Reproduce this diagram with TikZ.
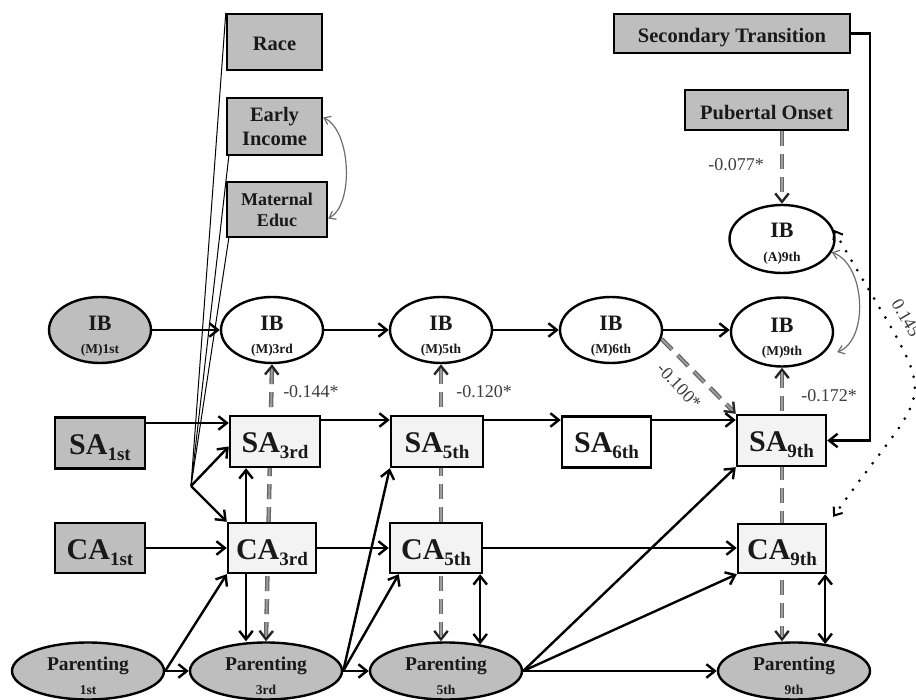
\documentclass[tikz,border=0pt]{standalone}
\usepackage{fontspec}
\setmainfont{Liberation Serif}
\usetikzlibrary{arrows.meta,shapes.geometric,backgrounds}
\definecolor{boxgray}{RGB}{190,190,190}
\definecolor{boxlight}{RGB}{243,243,243}
\definecolor{labgray}{RGB}{60,60,60}
\definecolor{curvegray}{RGB}{110,110,110}
\newcommand\lowsub[1]{\raisebox{-6pt}{\fontsize{19}{19}\selectfont #1}}
\begin{document}
\begin{tikzpicture}[x=1pt,y=1pt,
  every node/.style={text=black!90},
  arr/.style={line width=2.4pt,-{Straight Barb[length=8.5pt,width=13.5pt]}},
  dbl/.style={line width=2.4pt,{Straight Barb[length=8.5pt,width=13.5pt]}-{Straight Barb[length=8.5pt,width=13.5pt]}},
  thinln/.style={line width=1pt},
  hdr/.style={draw, line width=2.4pt, fill=boxgray, inner sep=0pt, align=center,
    font=\bfseries\fontsize{20.5}{24}\selectfont},
  meas/.style={draw, line width=2.4pt, fill=boxlight, inner sep=0pt,
    minimum width=90pt, minimum height=51pt, text height=22pt, text depth=0pt,
    font=\bfseries\fontsize{30}{30}\selectfont},
  ibell/.style={ellipse, draw, line width=2.4pt, fill=white, inner sep=0pt,
    minimum width=102pt, minimum height=66pt},
  pell/.style={ellipse, draw, line width=2.4pt, fill=boxgray, inner sep=0pt,
    minimum width=152pt, minimum height=57pt},
  ibtxt/.style={anchor=base, inner sep=0pt, font=\bfseries\fontsize{22}{22}\selectfont},
  ptxt/.style={anchor=base, inner sep=0pt, font=\bfseries\fontsize{19.5}{20}\selectfont},
  wave/.style={anchor=base, inner sep=0pt, font=\bfseries\fontsize{13.5}{14}\selectfont},
  lab/.style={text=labgray, inner sep=0pt, font=\fontsize{18}{18}\selectfont},
  % dashed double line of a moderated path (tips are added by tiponly)
  dsh/.style={draw=black!60, double=black!38, double distance=1.8pt, line width=1.3pt,
    dash pattern=on 15pt off 8pt},
  tiponly/.style={line width=2.4pt, draw=black!85, dash pattern=on 0pt off 4000pt, line cap=butt},
  dtip/.style={-{Straight Barb[length=8.5pt,width=13.5pt]}},
  dtips/.style={{Straight Barb[length=8.5pt,width=13.5pt]}-{Straight Barb[length=8.5pt,width=13.5pt]}},
  cur/.style={line width=1.2pt, draw=curvegray,
    {Straight Barb[length=6pt,width=9pt]}-{Straight Barb[length=6pt,width=9pt]}},
  dot/.style={line width=3pt, dash pattern=on 0pt off 11pt, line cap=round,
    {Straight Barb[length=7pt,width=11pt,line width=2pt]}-{Straight Barb[length=7pt,width=11pt,line width=2pt]}}
]
\useasboundingbox (0,0) rectangle (916,-700);
\clip (0,0) rectangle (916,-700);

% covariates
\node[hdr, minimum width=95pt, minimum height=56pt, text height=18pt, text depth=0pt] (race) at (274.5,-42) {Race};
\node[hdr, minimum width=95pt, minimum height=57pt] (inc) at (274.5,-126.5) {Early\\Income};
\node[hdr, minimum width=100pt, minimum height=55pt, font=\bfseries\fontsize{18}{21}\selectfont] (edu) at (277,-209.5) {Maternal\\Educ};
\node[hdr, minimum width=236pt, minimum height=39pt, text height=18pt, text depth=0pt] (st) at (732,-33.5) {Secondary Transition};
\node[hdr, minimum width=163pt, minimum height=40pt, text height=19pt, text depth=0pt] (po) at (766.5,-110) {Pubertal Onset};

% internalizing behaviour
\node[ibell, fill=boxgray] (ib1) at (100,-330) {};
\node[ibell] (ib3) at (272,-330) {};
\node[ibell] (ib5) at (441,-330) {};
\node[ibell] (ib6) at (611,-330) {};
\node[ibell, minimum height=69pt] (ib9) at (782,-332) {};
\node[ibell, minimum width=105pt, minimum height=68pt] (iba) at (782,-239) {};
\node[ibtxt] (ib1t) at ([yshift=-1pt]ib1.center) {IB};
\node[wave]  (ib1s) at ([yshift=-24pt]ib1.center) {(M)1st};
\node[ibtxt] (ib3t) at ([yshift=-1pt]ib3.center) {IB};
\node[wave]  (ib3s) at ([yshift=-24pt]ib3.center) {(M)3rd};
\node[ibtxt] (ib5t) at ([yshift=-1pt]ib5.center) {IB};
\node[wave]  (ib5s) at ([yshift=-24pt]ib5.center) {(M)5th};
\node[ibtxt] (ib6t) at ([yshift=-1pt]ib6.center) {IB};
\node[wave]  (ib6s) at ([yshift=-24pt]ib6.center) {(M)6th};
\node[ibtxt] (ib9t) at ([yshift=-1pt]ib9.center) {IB};
\node[wave]  (ib9s) at ([yshift=-24pt]ib9.center) {(M)9th};
\node[ibtxt] (ibat) at ([yshift=1pt]iba.center) {IB};
\node[wave]  (ibas) at ([yshift=-23pt]iba.center) {(A)9th};

% social and cognitive ability
\node[meas, fill=boxgray] (sa1) at (100,-443) {SA\lowsub{1st}};
\node[meas] (sa3) at (275,-441.5) {SA\lowsub{3rd}};
\node[meas, minimum width=92pt] (sa5) at (437,-441.5) {SA\lowsub{5th}};
\node[meas, fill=white, minimum width=89pt] (sa6) at (606.5,-442) {SA\lowsub{6th}};
\node[meas, minimum width=89pt] (sa9) at (781.5,-440.5) {SA\lowsub{9th}};
\node[meas, fill=boxgray, minimum height=50pt] (ca1) at (100,-548) {CA\lowsub{1st}};
\node[meas, minimum width=88pt, minimum height=50pt] (ca3) at (272,-548) {CA\lowsub{3rd}};
\node[meas, minimum width=92pt, minimum height=50pt] (ca5) at (436,-548) {CA\lowsub{5th}};
\node[meas, minimum width=88pt, minimum height=49pt] (ca9) at (782,-548.5) {CA\lowsub{9th}};

% parenting
\node[pell] (p1) at (88,-671) {};
\node[pell] (p3) at (266,-671) {};
\node[pell] (p5) at (446,-671) {};
\node[pell] (p9) at (794,-671) {};
\node[ptxt] (p1t) at ([yshift=1pt]p1.center) {Parenting};
\node[wave] (p1s) at ([yshift=-23pt]p1.center) {1st};
\node[ptxt] (p3t) at ([yshift=1pt]p3.center) {Parenting};
\node[wave] (p3s) at ([yshift=-23pt]p3.center) {3rd};
\node[ptxt] (p5t) at ([yshift=1pt]p5.center) {Parenting};
\node[wave] (p5s) at ([yshift=-23pt]p5.center) {5th};
\node[ptxt] (p9t) at ([yshift=1pt]p9.center) {Parenting};
\node[wave] (p9s) at ([yshift=-23pt]p9.center) {9th};

% moderated paths: dashed lines behind the boxes
\begin{scope}[on background layer]
  \draw[dsh, shorten <=5pt, shorten >=5pt] (ib3.south) -- (p3.north);
  \draw[dsh, shorten <=5pt, shorten >=5pt] (ib5.south) -- (ib5.south |- p5.north);
  \draw[dsh, shorten <=5pt, shorten >=5pt] (ib9.south) -- (ib9.south |- p9.north);
  \draw[dsh, shorten >=5pt] (iba.north |- po.south) -- (iba.north);
  \draw[dsh, shorten >=5pt] (ib6.-10) -- (sa9.north west);
\end{scope}
% their arrow tips
\draw[tiponly, dtips] (ib3.south) -- (p3.north);
\draw[tiponly, dtips] (ib5.south) -- (ib5.south |- p5.north);
\draw[tiponly, dtips] (ib9.south) -- (ib9.south |- p9.north);
\draw[tiponly, dtip] (iba.north |- po.south) -- (iba.north);
\draw[tiponly, dtip] (ib6.-10) -- (sa9.north west);

\node[lab] (l144) at (311,-392) {-0.144*};
\node[lab] (l120) at (484,-392) {-0.120*};
\node[lab] (l172) at (829,-396) {-0.172*};
\node[lab] (l077) at (736,-165) {-0.077*};
\node[lab, rotate=-47] (l100) at (679,-386) {-0.100*};
\node[lab, rotate=-60] (l145) at (906,-318) {0.145};

% covariate paths
\coordinate (hub) at (191,-486);
\draw[thinln] (race.north west) -- (hub);
\draw[thinln] ([xshift=3pt]inc.south west) -- (hub);
\draw[thinln] ([xshift=3pt]edu.south west) -- (hub);
\draw[arr] (hub) -- ([yshift=-5pt]sa3.west);
\draw[arr] (hub) -- (ca3.north west);

% IB stability
\draw[arr] (ib1.east) -- (ib3.west);
\draw[arr] (ib3.east) -- (ib5.west);
\draw[arr] (ib5.east) -- (ib6.west);
\draw[arr] (ib6.east) -- (ib6.east -| ib9.west);

% SA stability
\coordinate (s1) at ([yshift=20pt]sa1.east);
\draw[arr] (s1) -- (s1 -| sa3.west);
\coordinate (s3) at ([yshift=21.5pt]sa3.east);
\draw[arr] (s3) -- (s3 -| sa5.west);
\coordinate (s5) at ([yshift=21.5pt]sa5.east);
\draw[arr] (s5) -- (s5 -| sa6.west);
\coordinate (s6) at ([yshift=22pt]sa6.east);
\draw[arr] (s6) -- (s6 -| sa9.west);

% CA stability
\draw[arr] (ca1.east) -- (ca3.west);
\draw[arr] (ca3.east) -- (ca5.west);
\draw[arr] (ca5.east) -- (ca5.east -| ca9.west);

% CA cross paths
\coordinate (c3u) at ([xshift=-26pt]ca3.north);
\coordinate (c3d) at ([xshift=-26pt]ca3.south);
\draw[arr] (c3u) -- (c3u |- sa3.south);
\draw[arr] (c3d) -- (c3d |- p3.north);
\coordinate (c5d) at ([xshift=-3pt]ca5.south east);
\draw[dbl] (c5d) -- (c5d |- p5.38);
\coordinate (c9d) at ([xshift=-2pt]ca9.south east);
\draw[dbl] (c9d) -- (c9d |- p9.40);

% parenting paths
\draw[arr] (p1.east) -- (p3.west);
\draw[arr] (p1.east) -- (ca3.south west);
\draw[arr] (p3.east) -- (p5.west);
\draw[arr] (p3.east) -- (sa5.south west);
\draw[arr] (p3.east) -- ([xshift=10pt]ca5.south west);
\draw[arr] (p5.east) -- (p9.west);
\draw[arr] (p5.east) -- (sa9.south west);
\draw[arr] (p5.east) -- (ca9.south west);

% secondary transition
\draw[arr] (st.east) -- ++(19,0) |- (sa9.east);

% correlations
\draw[cur] ([yshift=9pt]inc.east) .. controls +(28,-13) and +(26,13.5) .. ([yshift=-9pt]edu.east);
\draw[cur] (iba.-15) .. controls +(34,-12) and +(32,12) .. ([xshift=12pt]ib9.-25);
\draw[dot] (iba.10) .. controls +(109,-191) and +(107,151) .. ([shift={(6pt,6pt)}]ca9.north east);
\end{tikzpicture}
\end{document}
